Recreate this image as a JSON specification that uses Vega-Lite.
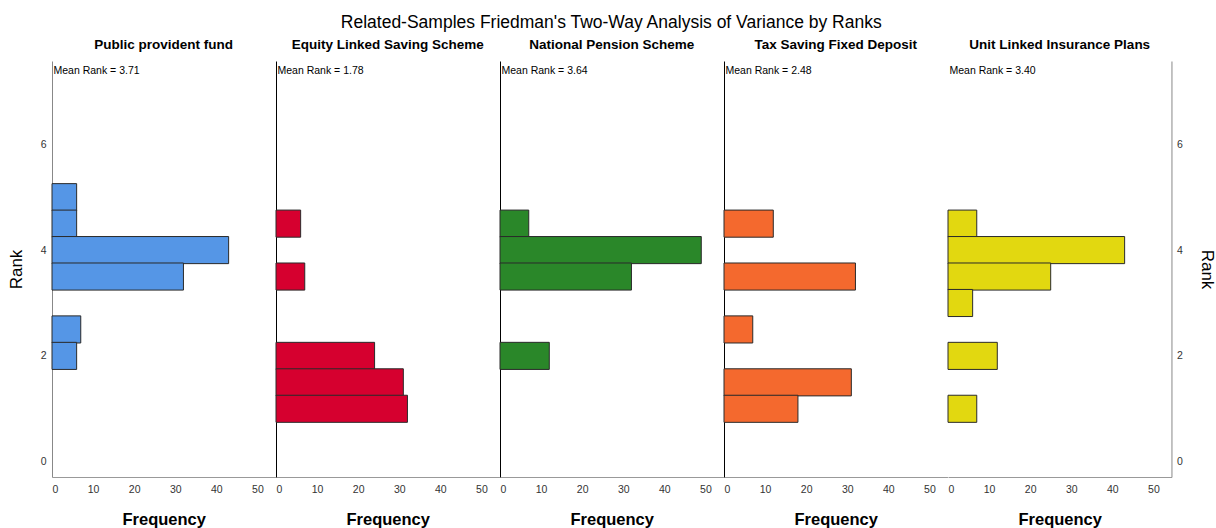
{
  "$schema": "https://vega.github.io/schema/vega-lite/v6.json",
  "background": "white",
  "padding": {"left": 7, "top": 13, "right": 2, "bottom": 2},
  "bounds": "flush",
  "title": {"text": "Related-Samples Friedman's Two-Way Analysis of Variance by Ranks", "fontSize": 17.5, "font": "Liberation Sans", "fontWeight": "normal", "color": "#000", "anchor": "middle", "offset": 7},
  "config": {
    "font": "Liberation Sans",
    "view": {"stroke": null},
    "axis": {"grid": false, "ticks": false, "labelFont": "Liberation Sans", "labelFontSize": 10.5, "labelColor": "#333", "domainColor": "#999", "titleFont": "Liberation Sans", "titleFontSize": 17, "titleFontWeight": "normal", "titleColor": "#000"},
    "title": {"font": "Liberation Sans", "color": "#000"}
  },
  "datasets": {
    "freq": [
      {"program": "Public provident fund", "rank": 5.0, "frequency": 6},
      {"program": "Public provident fund", "rank": 4.5, "frequency": 6},
      {"program": "Public provident fund", "rank": 4.0, "frequency": 43},
      {"program": "Public provident fund", "rank": 3.5, "frequency": 32},
      {"program": "Public provident fund", "rank": 2.5, "frequency": 7},
      {"program": "Public provident fund", "rank": 2.0, "frequency": 6},
      {"program": "Equity Linked Saving Scheme", "rank": 4.5, "frequency": 6},
      {"program": "Equity Linked Saving Scheme", "rank": 3.5, "frequency": 7},
      {"program": "Equity Linked Saving Scheme", "rank": 2.0, "frequency": 24},
      {"program": "Equity Linked Saving Scheme", "rank": 1.5, "frequency": 31},
      {"program": "Equity Linked Saving Scheme", "rank": 1.0, "frequency": 32},
      {"program": "National Pension Scheme", "rank": 4.5, "frequency": 7},
      {"program": "National Pension Scheme", "rank": 4.0, "frequency": 49},
      {"program": "National Pension Scheme", "rank": 3.5, "frequency": 32},
      {"program": "National Pension Scheme", "rank": 2.0, "frequency": 12},
      {"program": "Tax Saving Fixed Deposit", "rank": 4.5, "frequency": 12},
      {"program": "Tax Saving Fixed Deposit", "rank": 3.5, "frequency": 32},
      {"program": "Tax Saving Fixed Deposit", "rank": 2.5, "frequency": 7},
      {"program": "Tax Saving Fixed Deposit", "rank": 1.5, "frequency": 31},
      {"program": "Tax Saving Fixed Deposit", "rank": 1.0, "frequency": 18},
      {"program": "Unit Linked Insurance Plans", "rank": 4.5, "frequency": 7},
      {"program": "Unit Linked Insurance Plans", "rank": 4.0, "frequency": 43},
      {"program": "Unit Linked Insurance Plans", "rank": 3.5, "frequency": 25},
      {"program": "Unit Linked Insurance Plans", "rank": 3.0, "frequency": 6},
      {"program": "Unit Linked Insurance Plans", "rank": 2.0, "frequency": 12},
      {"program": "Unit Linked Insurance Plans", "rank": 1.0, "frequency": 7}
    ],
    "means": [
      {"program": "Public provident fund", "label": "Mean Rank = 3.71"},
      {"program": "Equity Linked Saving Scheme", "label": "Mean Rank = 1.78"},
      {"program": "National Pension Scheme", "label": "Mean Rank = 3.64"},
      {"program": "Tax Saving Fixed Deposit", "label": "Mean Rank = 2.48"},
      {"program": "Unit Linked Insurance Plans", "label": "Mean Rank = 3.40"}
    ]
  },
  "spacing": 0,
  "hconcat": [
    {
      "width": 223.46, "height": 416,
      "title": {"text": "Public provident fund", "fontSize": 13.5, "fontWeight": "bold", "offset": 9.5},
      "layer": [
        {
          "data": {"name": "freq"},
          "transform": [{"filter": "datum.program == 'Public provident fund'"}],
          "mark": {"type": "bar", "orient": "horizontal", "height": 27.1, "fill": "#5596E6", "stroke": "#2a2a2a", "strokeWidth": 1},
          "encoding": {
            "x": {"field": "frequency", "type": "quantitative", "scale": {"domain": [0, 54.4], "nice": false}, "axis": {"values": [0, 10, 20, 30, 40, 50], "title": "Frequency", "titleFontSize": 16.5, "titleFontWeight": "bold", "labelPadding": 7.5, "titlePadding": 16}},
            "y": {"field": "rank", "type": "quantitative", "scale": {"domain": [-0.195, 7.48], "nice": false, "zero": false}, "axis": {"values": [0, 2, 4, 6], "title": "Rank", "labelPadding": 6, "titlePadding": 15, "domainColor": "#888"}}
          }
        },
        {
          "data": {"name": "means"},
          "transform": [{"filter": "datum.program == 'Public provident fund'"}],
          "mark": {"type": "text", "align": "left", "baseline": "top", "dx": 1.5, "dy": 0, "fontSize": 10.5, "color": "#000"},
          "encoding": {"x": {"datum": 0}, "y": {"datum": 7.48}, "text": {"field": "label"}}
        }
      ]
    },
    {
      "width": 223.46, "height": 416,
      "title": {"text": "Equity Linked Saving Scheme", "fontSize": 13.5, "fontWeight": "bold", "offset": 9.5},
      "layer": [
        {
          "data": {"name": "freq"},
          "transform": [{"filter": "datum.program == 'Equity Linked Saving Scheme'"}],
          "mark": {"type": "bar", "orient": "horizontal", "height": 27.1, "fill": "#D6002F", "stroke": "#2a2a2a", "strokeWidth": 1},
          "encoding": {
            "x": {"field": "frequency", "type": "quantitative", "scale": {"domain": [0, 54.4], "nice": false}, "axis": {"values": [0, 10, 20, 30, 40, 50], "title": "Frequency", "titleFontSize": 16.5, "titleFontWeight": "bold", "labelPadding": 7.5, "titlePadding": 16}},
            "y": {"field": "rank", "type": "quantitative", "scale": {"domain": [-0.195, 7.48], "nice": false, "zero": false}, "axis": {"values": [0, 2, 4, 6], "labels": false, "title": null, "domainColor": "#000"}}
          }
        },
        {
          "data": {"name": "means"},
          "transform": [{"filter": "datum.program == 'Equity Linked Saving Scheme'"}],
          "mark": {"type": "text", "align": "left", "baseline": "top", "dx": 1.5, "dy": 0, "fontSize": 10.5, "color": "#000"},
          "encoding": {"x": {"datum": 0}, "y": {"datum": 7.48}, "text": {"field": "label"}}
        }
      ]
    },
    {
      "width": 223.46, "height": 416,
      "title": {"text": "National Pension Scheme", "fontSize": 13.5, "fontWeight": "bold", "offset": 9.5},
      "layer": [
        {
          "data": {"name": "freq"},
          "transform": [{"filter": "datum.program == 'National Pension Scheme'"}],
          "mark": {"type": "bar", "orient": "horizontal", "height": 27.1, "fill": "#2A8729", "stroke": "#2a2a2a", "strokeWidth": 1},
          "encoding": {
            "x": {"field": "frequency", "type": "quantitative", "scale": {"domain": [0, 54.4], "nice": false}, "axis": {"values": [0, 10, 20, 30, 40, 50], "title": "Frequency", "titleFontSize": 16.5, "titleFontWeight": "bold", "labelPadding": 7.5, "titlePadding": 16}},
            "y": {"field": "rank", "type": "quantitative", "scale": {"domain": [-0.195, 7.48], "nice": false, "zero": false}, "axis": {"values": [0, 2, 4, 6], "labels": false, "title": null, "domainColor": "#000"}}
          }
        },
        {
          "data": {"name": "means"},
          "transform": [{"filter": "datum.program == 'National Pension Scheme'"}],
          "mark": {"type": "text", "align": "left", "baseline": "top", "dx": 1.5, "dy": 0, "fontSize": 10.5, "color": "#000"},
          "encoding": {"x": {"datum": 0}, "y": {"datum": 7.48}, "text": {"field": "label"}}
        }
      ]
    },
    {
      "width": 223.46, "height": 416,
      "title": {"text": "Tax Saving Fixed Deposit", "fontSize": 13.5, "fontWeight": "bold", "offset": 9.5},
      "layer": [
        {
          "data": {"name": "freq"},
          "transform": [{"filter": "datum.program == 'Tax Saving Fixed Deposit'"}],
          "mark": {"type": "bar", "orient": "horizontal", "height": 27.1, "fill": "#F4692E", "stroke": "#2a2a2a", "strokeWidth": 1},
          "encoding": {
            "x": {"field": "frequency", "type": "quantitative", "scale": {"domain": [0, 54.4], "nice": false}, "axis": {"values": [0, 10, 20, 30, 40, 50], "title": "Frequency", "titleFontSize": 16.5, "titleFontWeight": "bold", "labelPadding": 7.5, "titlePadding": 16}},
            "y": {"field": "rank", "type": "quantitative", "scale": {"domain": [-0.195, 7.48], "nice": false, "zero": false}, "axis": {"values": [0, 2, 4, 6], "labels": false, "title": null, "domainColor": "#000"}}
          }
        },
        {
          "data": {"name": "means"},
          "transform": [{"filter": "datum.program == 'Tax Saving Fixed Deposit'"}],
          "mark": {"type": "text", "align": "left", "baseline": "top", "dx": 1.5, "dy": 0, "fontSize": 10.5, "color": "#000"},
          "encoding": {"x": {"datum": 0}, "y": {"datum": 7.48}, "text": {"field": "label"}}
        }
      ]
    },
    {
      "width": 223.46, "height": 416,
      "title": {"text": "Unit Linked Insurance Plans", "fontSize": 13.5, "fontWeight": "bold", "offset": 9.5},
      "layer": [
        {
          "data": {"name": "freq"},
          "transform": [{"filter": "datum.program == 'Unit Linked Insurance Plans'"}],
          "mark": {"type": "bar", "orient": "horizontal", "height": 27.1, "fill": "#E2D810", "stroke": "#2a2a2a", "strokeWidth": 1},
          "encoding": {
            "x": {"field": "frequency", "type": "quantitative", "scale": {"domain": [0, 54.4], "nice": false}, "axis": {"values": [0, 10, 20, 30, 40, 50], "title": "Frequency", "titleFontSize": 16.5, "titleFontWeight": "bold", "labelPadding": 7.5, "titlePadding": 16}},
            "y": {"field": "rank", "type": "quantitative", "scale": {"domain": [-0.195, 7.48], "nice": false, "zero": false}, "axis": {"orient": "right", "values": [0, 2, 4, 6], "title": "Rank", "labelPadding": 5, "titlePadding": 15, "domainColor": "#888"}}
          }
        },
        {
          "data": {"name": "means"},
          "transform": [{"filter": "datum.program == 'Unit Linked Insurance Plans'"}],
          "mark": {"type": "text", "align": "left", "baseline": "top", "dx": 1.5, "dy": 0, "fontSize": 10.5, "color": "#000"},
          "encoding": {"x": {"datum": 0}, "y": {"datum": 7.48}, "text": {"field": "label"}}
        },
        {
          "mark": {"type": "rule", "color": "#000", "strokeWidth": 1},
          "encoding": {"x": {"datum": 0}}
        }
      ]
    }
  ]
}
